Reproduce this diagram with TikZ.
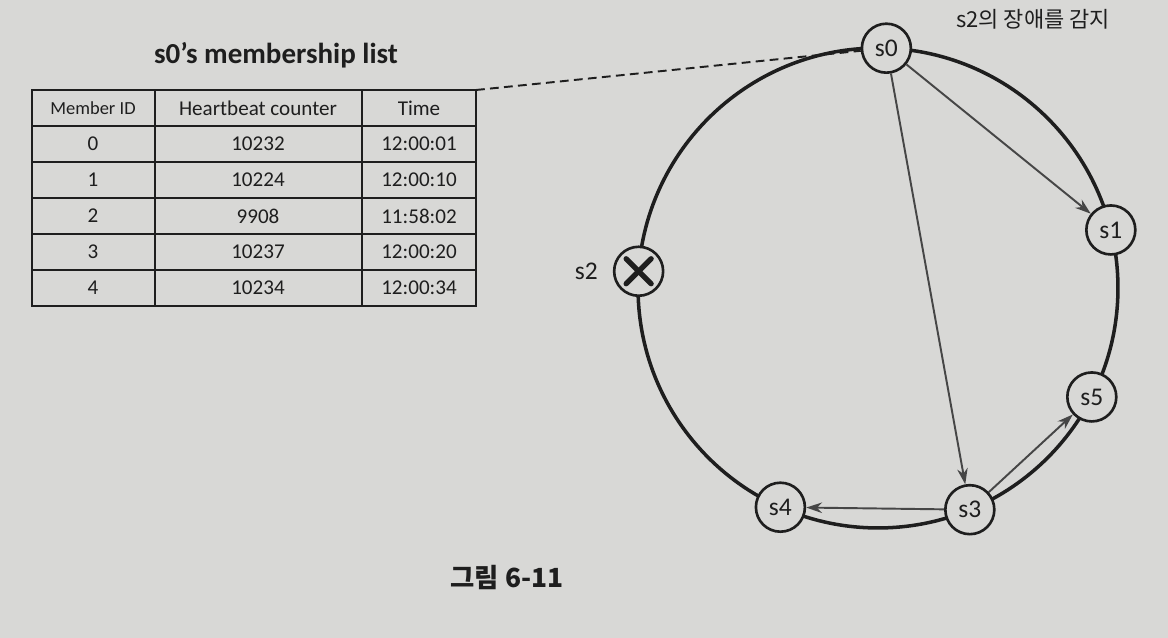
\documentclass[tikz,border=0pt]{standalone}
\usepackage{fontspec}
\setmainfont{Carlito}
\newfontfamily\kofont{Noto Sans CJK KR}
\usetikzlibrary{arrows.meta,positioning}
\definecolor{paper}{RGB}{216,216,214}
\definecolor{ink}{RGB}{30,30,30}
\definecolor{arrowink}{RGB}{70,70,70}

\begin{document}
\begin{tikzpicture}[x=0.02cm, y=-0.02cm,
    server/.style={circle, draw=ink, line width=1.5pt, fill=paper, minimum size=0.98cm,
      inner sep=0pt, text=ink, font=\fontsize{14.5}{16}\selectfont},
    ring/.style={draw=ink, line width=2pt},
    gossip/.style={draw=arrowink, line width=1.1pt, -{Stealth[length=9pt,width=6pt]}},
    grid line/.style={draw=ink, line width=1.2pt},
    cell/.style={text=ink, font=\fontsize{12}{14}\selectfont},
    tag/.style={text=ink, font=\fontsize{14.5}{16}\selectfont}]

  \fill[paper] (0,0) rectangle (1168,638);
  \useasboundingbox (0,0) rectangle (1168,638);

  % membership list
  \node[text=ink, font=\bfseries\fontsize{16.5}{19}\selectfont] (title) at (276,55) {s0’s membership list};
  \draw[grid line] (32,90) rectangle (476,306);
  \foreach \y in {126,162,...,270} \draw[grid line] (32,\y) -- (476,\y);
  \foreach \x in {155,362} \draw[grid line] (\x,90) -- (\x,306);
  \coordinate (tablecorner) at (476,90);

  \node[cell, font=\fontsize{10.5}{12}\selectfont] (headid) at (93,108) {Member ID};
  \node[cell] (headhb) at (258,108) {Heartbeat counter};
  \node[cell] (headtime) at (419,108) {Time};
  \foreach \id/\hb/\t [count=\i] in {0/10232/12:00:01, 1/10224/12:00:10,
      2/9908/11:58:02, 3/10237/12:00:20, 4/10234/12:00:34} {
    \node[cell] (id\i) at (93,108+36*\i) {\id};
    \node[cell] (hb\i) at (258,108+36*\i) {\hb};
    \node[cell] (time\i) at (419,108+36*\i) {\t};
  }

  % ring of servers
  \coordinate (ctr) at (878,288);
  \draw[ring] (ctr) circle[radius=4.8cm];

  \node[server] (s0) at ([shift={(88:4.8cm)}]ctr) {s0};
  \node[server] (s1) at ([shift={(14:4.8cm)}]ctr) {s1};
  \node[server] (s5) at ([shift={(-27:4.8cm)}]ctr) {s5};
  \node[server] (s3) at ([shift={(-67.5:4.8cm)}]ctr) {s3};
  \node[server] (s4) at ([shift={(-114:4.8cm)}]ctr) {s4};
  \node[server] (s2) at ([shift={(176:4.8cm)}]ctr) {};

  \draw[ink, line width=3pt, line cap=round]
    ([shift={(-0.25cm,-0.25cm)}]s2.center) -- ([shift={(0.25cm,0.25cm)}]s2.center);
  \draw[ink, line width=3pt, line cap=round]
    ([shift={(-0.25cm,0.25cm)}]s2.center) -- ([shift={(0.25cm,-0.25cm)}]s2.center);
  \node[tag, left=5pt of s2] (s2label) {s2};

  \node[text=ink, anchor=west, font=\kofont\fontsize{12.5}{15}\selectfont] (detect) at (950,19) {s2의 장애를 감지};

  \draw[gossip] (s0) -- (s1);
  \draw[gossip] (s0) -- (s3);
  \draw[gossip] (s3) -- (s4);
  \draw[gossip] (s3) -- (s5);

  \draw[ink, line width=1.1pt, dash pattern=on 5pt off 3pt] (tablecorner) -- (s0);

  \node[text=ink, font=\kofont\bfseries\fontsize{15}{18}\selectfont] (caption) at (507,578) {그림 6-11};
\end{tikzpicture}
\end{document}
